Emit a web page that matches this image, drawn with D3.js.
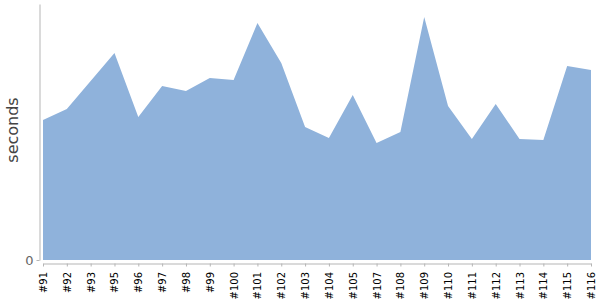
<!DOCTYPE html>
<html>
<head>
<meta charset="utf-8">
<script src="https://cdn.jsdelivr.net/npm/d3@7"></script>
<style>
  body { margin: 0; background: #fff; }
  #chart { width: 600px; height: 300px; }
</style>
</head>
<body>
<div id="chart"></div>
<script>
// builds and their durations (seconds)
const builds = ["#91", "#92", "#93", "#95", "#96", "#97", "#98", "#99", "#100", "#101", "#102", "#103",
  "#104", "#105", "#107", "#108", "#109", "#110", "#111", "#112", "#113", "#114", "#115", "#116"];
const durations = [140, 151, 179, 207, 143, 174, 169, 182, 180, 237, 197, 133,
  122, 165, 117, 128, 243, 154, 121, 156, 121, 120, 194, 190];
const yTicks = [0];

const width = 600, height = 300;
const margin = { top: 4, right: 9, bottom: 40, left: 43 };

const svg = d3.select("#chart").append("svg")
  .attr("width", width)
  .attr("height", height);

const x = d3.scalePoint()
  .domain(builds)
  .range([margin.left, width - margin.right]);

const y = d3.scaleLinear()
  .domain([0, 256])
  .range([height - margin.bottom, margin.top]);

const area = d3.area()
  .x((d, i) => x(builds[i]))
  .y0(y(0))
  .y1(d => y(d));

svg.append("path")
  .datum(durations)
  .attr("fill", "#8fb2db")
  .attr("d", area);

// y axis
const yAxis = svg.append("g")
  .attr("transform", `translate(${margin.left - 3.5},0)`)
  .call(d3.axisLeft(y).tickValues(yTicks).tickSize(3).tickSizeOuter(0));
yAxis.select(".domain").attr("stroke", "#b5b5b5");
yAxis.selectAll(".tick line").attr("stroke", "#b5b5b5");
yAxis.selectAll("text")
  .attr("font-family", "DejaVu Sans")
  .attr("font-size", 13)
  .attr("fill", "#666");

// x axis
const xAxis = svg.append("g")
  .attr("transform", `translate(0,${height - margin.bottom + 3.5})`)
  .call(d3.axisBottom(x).tickSize(3).tickSizeOuter(0));
xAxis.select(".domain").attr("stroke", "#b5b5b5");
xAxis.selectAll(".tick line").attr("stroke", "#b5b5b5");
xAxis.selectAll("text")
  .attr("font-family", "DejaVu Sans")
  .attr("font-size", 10)
  .attr("fill", "#000")
  .attr("text-anchor", "end")
  .attr("transform", "rotate(-90)")
  .attr("x", -8.5)
  .attr("y", 0)
  .attr("dy", "0.35em");

// y label
svg.append("text")
  .attr("transform", "translate(18,130) rotate(-90)")
  .attr("text-anchor", "middle")
  .attr("font-family", "DejaVu Sans")
  .attr("font-size", 16)
  .attr("fill", "#444")
  .text("seconds");
</script>
</body>
</html>
